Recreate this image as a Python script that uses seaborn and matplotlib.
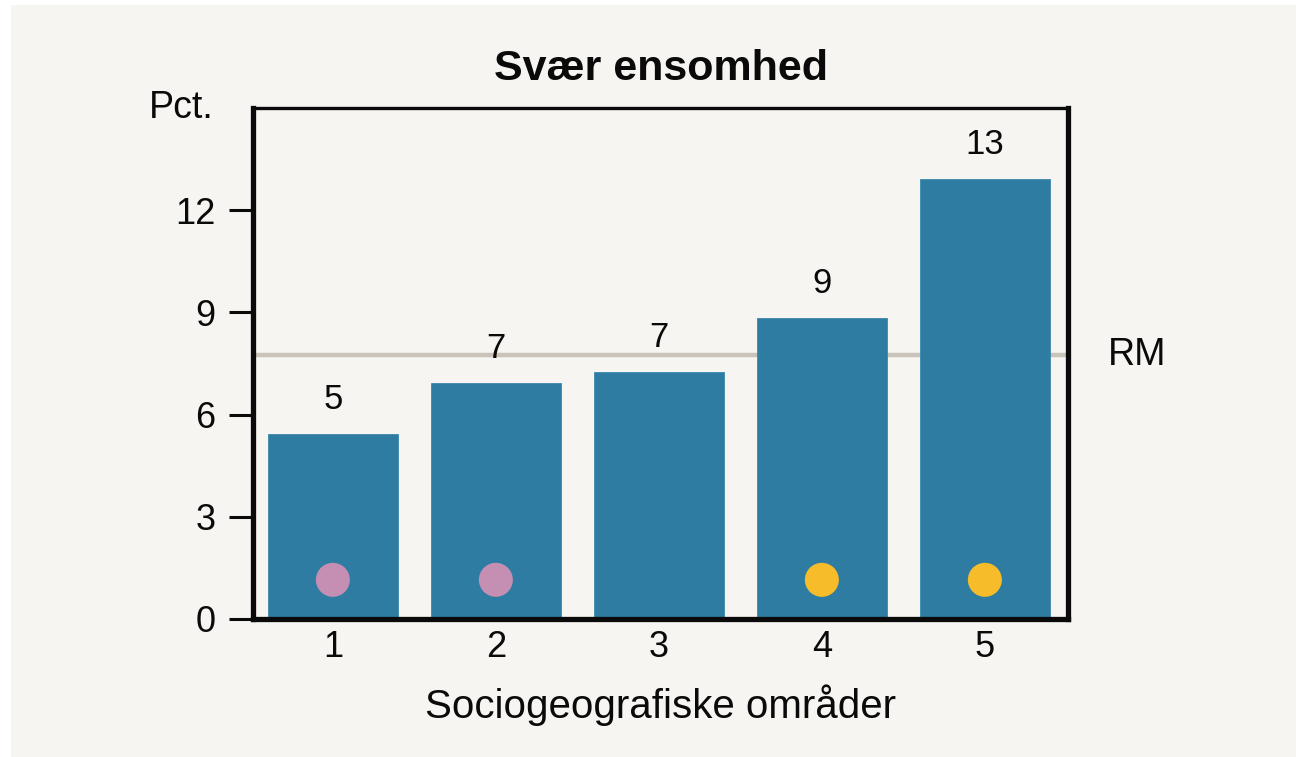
import matplotlib
matplotlib.use("Agg")
import matplotlib.pyplot as plt
import seaborn as sns
from matplotlib.patches import Rectangle

# ---- data ----
categories = ["1", "2", "3", "4", "5"]
values = [5.43, 6.92, 7.25, 8.83, 12.91]
value_labels = ["5", "7", "7", "9", "13"]
marker_colors = ["#c48fb2", "#c48fb2", None, "#f6bc2a", "#f6bc2a"]
rm_value = 7.75
yticks = [0, 3, 6, 9, 12]

title = "Svær ensomhed"
xlabel = "Sociogeografiske områder"
ylabel = "Pct."
rm_label = "RM"

BG = "#f6f5f1"
BAR = "#2e7ca1"
RM_COLOR = "#c9c3ba"
TXT = "#0a0a0a"

sns.set_theme(style="white")
plt.rcParams["font.family"] = ["Liberation Sans", "DejaVu Sans"]

fig = plt.figure(figsize=(12.96, 7.57), dpi=100, facecolor="white")
fig.patches.append(Rectangle((11 / 1296, 0), 1 - 11 / 1296, 1 - 5 / 757,
                             transform=fig.transFigure, facecolor=BG,
                             edgecolor="none", zorder=-10))
ax = fig.add_axes([253 / 1296, 1 - 619 / 757, (1068 - 253) / 1296, (619 - 108) / 757])
ax.set_facecolor(BG)

sns.barplot(x=categories, y=values, color=BAR, saturation=1, width=0.8,
            edgecolor="#3b87ab", linewidth=0.6, ax=ax, zorder=2)

ax.axhline(rm_value, color=RM_COLOR, lw=3.2, zorder=1)

for i, (v, lab) in enumerate(zip(values, value_labels)):
    ax.text(i, v + 1.02, lab, ha="center", va="center", fontsize=25, color=TXT, zorder=4)

mx = [i for i, c in enumerate(marker_colors) if c]
mc = [c for c in marker_colors if c]
ax.scatter(mx, [1.15] * len(mx), s=600, c=mc, marker="o", edgecolors="none", zorder=3)

ax.set_xlim(-0.49, 4.51)
ax.set_ylim(0, 15)
ax.set_yticks(yticks)
ax.set_yticklabels([str(t) for t in yticks])

for side in ["left", "right", "bottom"]:
    ax.spines[side].set_linewidth(3.8)
    ax.spines[side].set_color(TXT)
ax.spines["top"].set_linewidth(2.4)
ax.spines["top"].set_color(TXT)

ax.tick_params(axis="y", which="major", direction="out", length=17, width=2.2,
               color=TXT, labelcolor=TXT, pad=10, labelsize=26, left=True)
ax.tick_params(axis="x", which="major", length=0, pad=8, labelsize=26, labelcolor=TXT)

ax.set_xlabel(xlabel, fontsize=29, labelpad=14, color=TXT)
ax.set_ylabel("")
ax.set_title(title, fontsize=31, fontweight="bold", pad=20, color=TXT)

ax.text(-0.088, 1.0, ylabel, transform=ax.transAxes, ha="center", va="center",
        fontsize=27, color=TXT)
ax.text(1.085, rm_value, rm_label, transform=ax.get_yaxis_transform(),
        ha="center", va="center", fontsize=27, color=TXT)

fig.savefig("out.png", dpi=100, facecolor=fig.get_facecolor())
